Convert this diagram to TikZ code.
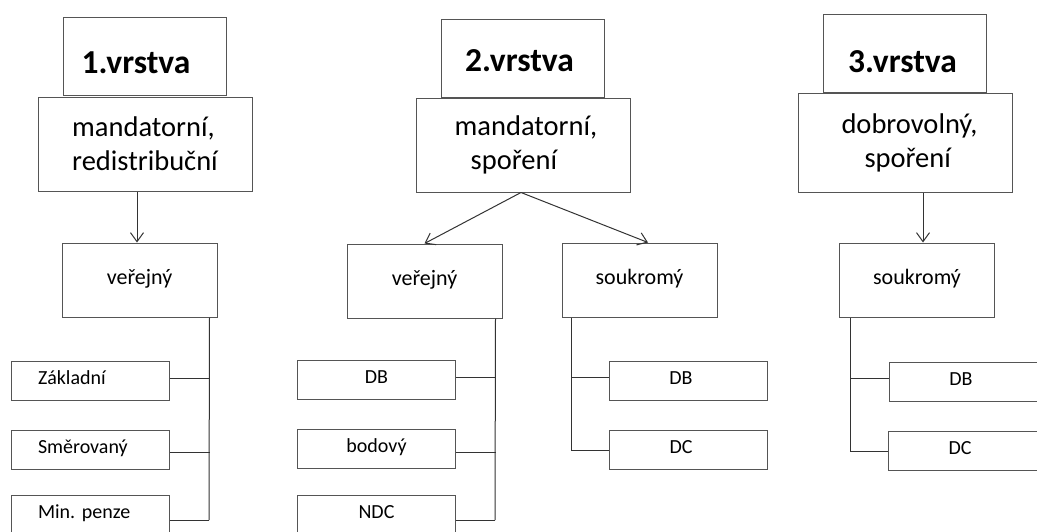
\documentclass[tikz,border=0pt]{standalone}
\usepackage{fontspec}
\setmainfont{Carlito}
\usetikzlibrary{arrows.meta,calc}
\definecolor{boxc}{HTML}{555555}
\definecolor{linec}{HTML}{333333}
\begin{document}
\begin{tikzpicture}[x=1pt,y=-1pt,
  titlebox/.style={draw=boxc, line width=1pt, minimum width=163pt, minimum height=78pt, inner sep=0pt},
  titletext/.style={font=\fontsize{33.5}{40}\selectfont\bfseries, inner sep=0pt},
  mainbox/.style={draw=boxc, line width=1pt, minimum width=214pt, minimum height=94pt, inner sep=0pt, align=left, font=\fontsize{28.5}{34}\selectfont},
  midbox/.style={draw=boxc, line width=1pt, minimum width=155pt, minimum height=74pt, inner sep=0pt, text height=0.8em, text depth=0pt, font=\fontsize{22}{26}\selectfont},
  smallbox/.style={draw=boxc, line width=1pt, minimum width=158pt, minimum height=39pt, inner sep=0pt, text height=0.72em, text depth=0pt, font=\fontsize{20}{24}\selectfont},
  leftbox/.style={smallbox, text width=105pt, inner xsep=26pt, align=left},
  conn/.style={draw=linec, line width=1pt},
  arr/.style={conn, -{Straight Barb[length=9pt,width=13pt]}}
]
\useasboundingbox (0,0) rectangle (1037,531);
\clip (0,0) rectangle (1037,531);

% ---------- column 1 ----------
\node[titlebox] (t1) at (144.5,56) {};
\node[titletext] (t1t) at ([xshift=-8.5pt,yshift=-6.5pt]t1.center) {1.vrstva};
\node[mainbox] (m1) at (145,144) {mandatorní,\\redistribuční};
\node[midbox] (v1) at (139.5,280) {veřejný};
\node[leftbox] (z1) at (90.5,380.5) {Základní};
\node[leftbox] (z2) at (90.5,450) {Směrovaný};
\node[leftbox] (z3) at (90.5,514.5) {Min.\ penze};

\draw[arr] ([xshift=-8pt]m1.south) -- ([xshift=-8pt]m1.south |- v1.north);
\coordinate (c1) at ([xshift=-8pt]v1.south east);
\coordinate (c1b) at (209,520);
\draw[conn] (c1) -- (c1b);
\draw[conn] ([yshift=2.5pt]z1.east) -- ([yshift=2.5pt]z1.east -| c1);
\draw[conn] ([yshift=-2pt]z2.east) -- ([yshift=-2pt]z2.east -| c1);
\draw[conn] ([yshift=-5.5pt]z3.east) -- (c1b);

% ---------- column 2 ----------
\node[titlebox] (t2) at (522.5,58) {};
\node[titletext] (t2t) at ([xshift=-3pt,yshift=-2.5pt]t2.center) {2.vrstva};
\node[mainbox] (m2) at (523,145) {\hspace*{6pt}mandatorní,\\\hspace*{22pt}spoření};
\node[midbox] (v2) at (424.5,281) {veřejný};
\node[midbox] (s2) at (639.5,280) {soukromý};
\node[smallbox] (d1) at (376.5,379.5) {DB};
\node[smallbox] (d2) at (376.5,449) {bodový};
\node[smallbox] (d3) at (376.5,514.5) {NDC};
\node[smallbox] (p1) at (688,381) {\hspace*{-14pt}DB};
\node[smallbox] (p2) at (688,450) {\hspace*{-14pt}DC};

\draw[arr] ([xshift=-2pt]m2.south) -- (v2.north);
\draw[arr] ([xshift=-2pt]m2.south) -- ([xshift=8.5pt]s2.north);
\coordinate (c2) at ([xshift=-7pt]v2.south east);
\coordinate (c2b) at (495,520);
\draw[conn] (c2) -- (c2b);
\draw[conn] ([yshift=2.5pt]d1.east) -- ([yshift=2.5pt]d1.east -| c2);
\draw[conn] ([yshift=-3pt]d2.east) -- ([yshift=-3pt]d2.east -| c2);
\draw[conn] ([yshift=-5.5pt]d3.east) -- (c2b);
\coordinate (c3) at ([xshift=10pt]s2.south west);
\draw[conn] (c3) |- (p2.west);
\draw[conn] ([yshift=4pt]p1.west) -- ([yshift=4pt]p1.west -| c3);

% ---------- column 3 ----------
\node[titlebox] (t3) at (905,53) {};
\node[titletext] (t3t) at ([xshift=-2.5pt,yshift=-9pt]t3.center) {3.vrstva};
\node[mainbox, minimum height=99pt] (m3) at (905,142.5) {\hspace*{9pt}dobrovolný,\\\hspace*{32pt}spoření};
\node[midbox] (s3) at (917,280) {soukromý};
\node[smallbox] (q1) at (968,381.5) {\hspace*{-14pt}DB};
\node[smallbox] (q2) at (967,451) {\hspace*{-14pt}DC};

\draw[arr] ([xshift=6pt]s3.north |- m3.south) -- ([xshift=6pt]s3.north);
\coordinate (c4) at ([xshift=11pt]s3.south west);
\draw[conn] (c4) |- (q2.west);
\draw[conn] ([yshift=3.5pt]q1.west) -- ([yshift=3.5pt]q1.west -| c4);
\end{tikzpicture}
\end{document}
